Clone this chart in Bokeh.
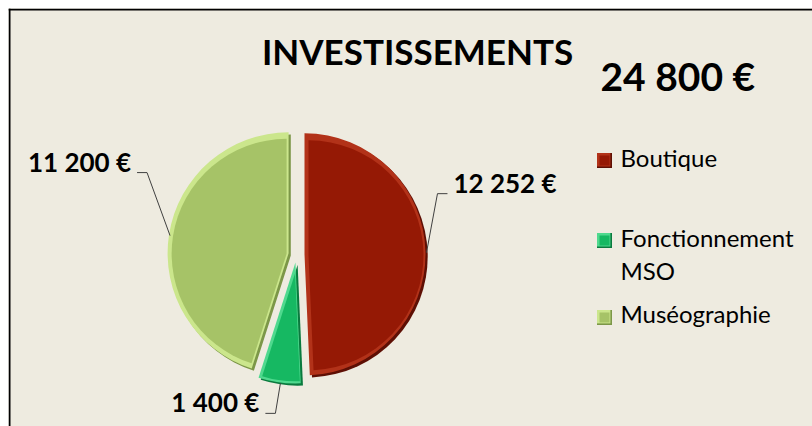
import math
from bokeh.plotting import figure
from bokeh.models import Range1d, Span, ColumnDataSource
from bokeh.core.properties import value
from bokeh.embed import file_html
from bokeh.resources import INLINE

# ---------------- data ----------------
title_text = "INVESTISSEMENTS"
total_label = "24 800 €"
categories = ["Boutique", "Fonctionnement MSO", "Muséographie"]
values = [12252, 1400, 11200]
value_labels = ["12 252 €", "1 400 €", "11 200 €"]

# ---------------- styles / layout ----------------
BG = "#EEEBE0"
MAIN = ["#951905", "#16B862", "#A6C367"]
DARK = ["#5E0F04", "#0A7A3E", "#7C9748"]
LIGHT = ["#B23219", "#4FD98E", "#CBE68C"]
FONT = value("Lato")

PW, PH = 812, 426          # page / figure size
M = 8                      # white margin left / top
W, H = PW - M, PH - M      # frame size
Y0 = -M                    # so that page_y = 418 - data_y
CX, CY, R, EXPLODE, BEVEL = 289, 163, 121, 8, 3
# leader elbow offsets (px) from arc point and tail direction
ELBOW = [(11, 59, 1), (-5, -30, -1), (-23, 63, -1)]
TAIL, GAP = 10, 6
LEG_SQ_X, LEG_TXT_X, LEG_SQ = 596, 612, 15
LEG_SQ_Y = [258, 178, 101]
LEG_BASE_Y = [251, 171, 95]
LEG_LINE_H = 33
BASE_FIX = 0.42            # renderer baseline correction (fraction of font size)

LBL_FS, TITLE_FS, TOTAL_FS, LEG_FS = 26, 35, 39, 24

p = figure(width=PW, height=PH, x_range=Range1d(0, W), y_range=Range1d(Y0, Y0 + H),
           output_backend="svg", toolbar_location=None,
           min_border_left=M, min_border_top=M, min_border_right=0, min_border_bottom=0,
           x_axis_location=None, y_axis_location=None)
p.grid.visible = False
p.outline_line_color = None
p.background_fill_color = BG
p.border_fill_color = "white"

total = sum(values)
base = dict(x=[], y=[], s=[], e=[], c=[])
hi = dict(x=[], y=[], s=[], e=[], c=[])
inner = dict(x=[], y=[], r=[], s=[], e=[], c=[])
lead_xs, lead_ys = [], []
lab = dict(x=[], y=[], t=[], align=[])

a = 0.0
for i, v in enumerate(values):
    sweep = v / total * 360.0
    a0, a1 = a, a + sweep
    a = a1
    mid = math.radians((a0 + a1) / 2)
    ux, uy = math.sin(mid), math.cos(mid)
    ox, oy = CX + EXPLODE * ux, CY + EXPLODE * uy
    s, e = math.radians(90 - a1), math.radians(90 - a0)
    base["x"].append(ox + 1.2); base["y"].append(oy - 1.2)
    base["s"].append(s); base["e"].append(e); base["c"].append(DARK[i])
    hi["x"].append(ox - 1.0); hi["y"].append(oy + 1.0)
    hi["s"].append(s); hi["e"].append(e); hi["c"].append(LIGHT[i])
    half = math.radians(sweep / 2)
    shift = min(BEVEL / math.sin(half), 10)
    inner["x"].append(ox + shift * ux); inner["y"].append(oy + shift * uy)
    inner["r"].append(R - BEVEL - shift)
    inner["s"].append(s); inner["e"].append(e); inner["c"].append(MAIN[i])
    # leader line
    px, py = ox + R * ux, oy + R * uy
    dx, dy, d = ELBOW[i]
    ex, ey = px + dx, py + dy
    tx = ex + d * TAIL
    lead_xs.append([px, ex, tx]); lead_ys.append([py, ey, ey])
    lab["x"].append(tx + d * GAP); lab["y"].append(ey + BASE_FIX * LBL_FS)
    lab["t"].append(value_labels[i]); lab["align"].append("left" if d > 0 else "right")

p.wedge(x="x", y="y", radius=R, start_angle="s", end_angle="e", fill_color="c",
        line_color=None, source=ColumnDataSource(base))
p.wedge(x="x", y="y", radius=R, start_angle="s", end_angle="e", fill_color="c",
        line_color=None, source=ColumnDataSource(hi))
p.wedge(x="x", y="y", radius="r", start_angle="s", end_angle="e", fill_color="c",
        line_color=None, source=ColumnDataSource(inner))

p.multi_line(xs=lead_xs, ys=lead_ys, line_color="#404040", line_width=1)
p.text(x="x", y="y", text="t", text_align="align", text_baseline="alphabetic",
       text_font=FONT, text_font_style="bold", text_font_size=f"{LBL_FS}px", text_color="black",
       source=ColumnDataSource(lab))

# title and total
p.text(x=[409], y=[353 + BASE_FIX * TITLE_FS], text=[title_text], text_align="center",
       text_baseline="alphabetic", text_font=FONT, text_font_style="bold",
       text_font_size=f"{TITLE_FS}px", text_color="black")
p.text(x=[592], y=[326 + BASE_FIX * TOTAL_FS], text=[total_label], text_align="left",
       text_baseline="alphabetic", text_font=FONT, text_font_style="bold",
       text_font_size=f"{TOTAL_FS}px", text_color="black")

# legend (bevelled squares)
n = len(categories)
p.rect(x=[LEG_SQ_X] * n, y=LEG_SQ_Y, width=LEG_SQ, height=LEG_SQ,
       fill_color=DARK, line_color=None)
p.rect(x=[LEG_SQ_X - 0.8] * n, y=[v_ + 0.8 for v_ in LEG_SQ_Y], width=LEG_SQ - 1.6,
       height=LEG_SQ - 1.6, fill_color=LIGHT, line_color=None)
p.rect(x=[LEG_SQ_X] * n, y=LEG_SQ_Y, width=LEG_SQ - 5, height=LEG_SQ - 5,
       fill_color=MAIN, line_color=None)
lt = dict(x=[], y=[], t=[])
for i, c in enumerate(categories):
    words = c.split(" ")
    lines, cur = [], ""
    for w_ in words:
        cand = (cur + " " + w_).strip()
        if len(cand) > 14 and cur:
            lines.append(cur); cur = w_
        else:
            cur = cand
    lines.append(cur)
    for k, ln in enumerate(lines):
        lt["x"].append(LEG_TXT_X)
        lt["y"].append(LEG_BASE_Y[i] - k * LEG_LINE_H + BASE_FIX * LEG_FS)
        lt["t"].append(ln)
p.text(x="x", y="y", text="t", text_align="left", text_baseline="alphabetic",
       text_font=FONT, text_font_size=f"{LEG_FS}px", text_color="black",
       source=ColumnDataSource(lt))

# chart border (left and top visible)
p.add_layout(Span(location=1, dimension="height", line_color="black", line_width=2))
p.add_layout(Span(location=Y0 + H - 1, dimension="width", line_color="black", line_width=2))

open("out.html", "w").write(file_html(p, INLINE))
